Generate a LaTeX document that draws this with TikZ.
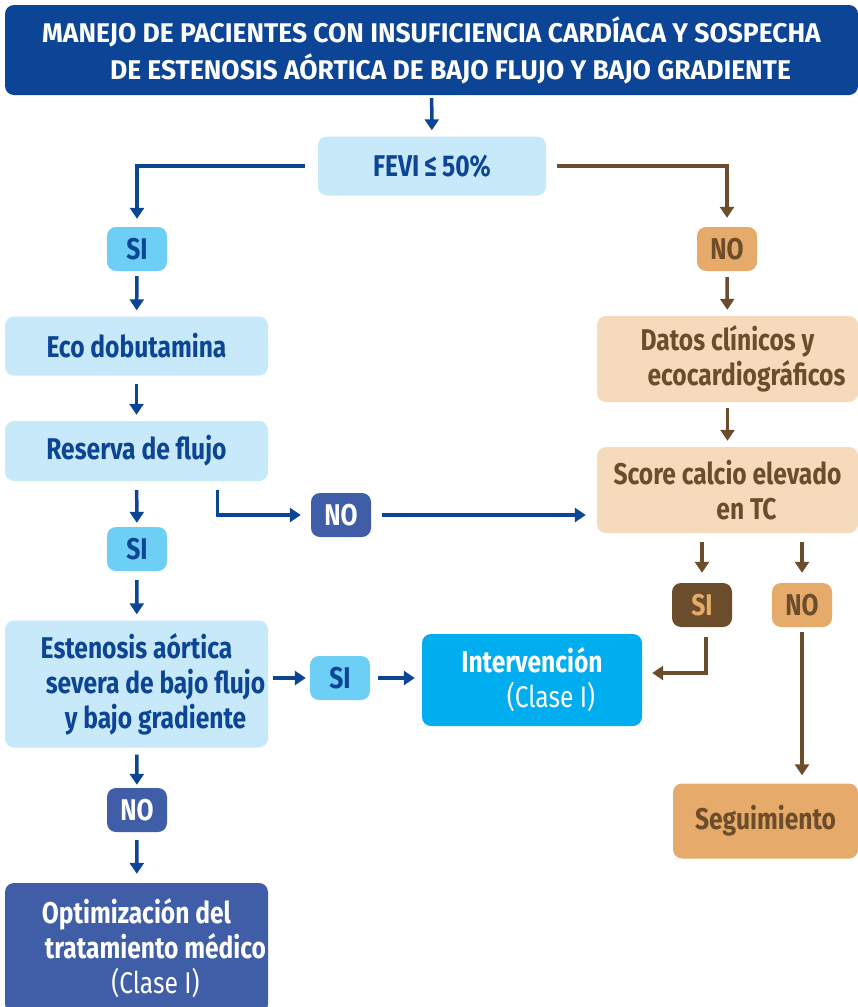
\documentclass[tikz,border=0pt]{standalone}
\usepackage{fontspec}
\setmainfont{Fira Sans}[FakeStretch=0.82]
\newfontfamily\titlefont{Fira Sans}[FakeStretch=0.98]
\usetikzlibrary{arrows.meta}

\definecolor{darkblue}{HTML}{0C4596}
\definecolor{lightblue}{HTML}{C7E9F9}
\definecolor{cyanbox}{HTML}{6DCFF6}
\definecolor{midblue}{HTML}{3F5EA7}
\definecolor{brightblue}{HTML}{00AEEF}
\definecolor{darkbrown}{HTML}{6B4D2C}
\definecolor{tan}{HTML}{E6AA6A}
\definecolor{peach}{HTML}{F5DBBC}

% the second and third lines of a box sit a bit to the right
\newcommand{\lineshift}{\hspace*{38pt}}

\tikzset{
  box/.style={rounded corners=9pt, inner sep=0pt, align=center,
    font=\bfseries\fontsize{30}{35}\selectfont},
  lightbox/.style={box, fill=lightblue, text=darkblue, minimum width=263pt},
  peachbox/.style={box, fill=peach, text=darkbrown, minimum width=261pt, minimum height=86pt},
  tag/.style={box, minimum width=60pt, minimum height=44pt},
  bluearrow/.style={draw=darkblue, line width=3.5pt, -{Triangle[length=11pt,width=14pt]}},
  brownarrow/.style={draw=darkbrown, line width=3.5pt, -{Triangle[length=11pt,width=14pt]}}
}

\begin{document}
\begin{tikzpicture}[x=1pt,y=-1pt]
\useasboundingbox (0,0) rectangle (858,1007);

% title and first question
\node[box, fill=darkblue, text=white, minimum width=853pt, minimum height=90pt,
  font=\titlefont\bfseries\fontsize{27}{37}\selectfont] (title) at (431.5,50)
  {MANEJO DE PACIENTES CON INSUFICIENCIA CARDÍACA Y SOSPECHA\\
   \lineshift DE ESTENOSIS AÓRTICA DE BAJO FLUJO Y BAJO GRADIENTE};
\node[lightbox, minimum width=228pt, minimum height=59pt] (fevi) at (432,166) {FEVI\,≤\,50\%};

% left branch
\node[tag, fill=cyanbox, text=darkblue] (si1) at (137,249) {SI};
\node[lightbox, minimum height=59pt] (eco) at (136.5,346) {Eco dobutamina};
\node[lightbox, minimum height=60pt] (reserva) at (136.5,451) {Reserva de flujo};
\node[tag, fill=cyanbox, text=darkblue] (si2) at (137,549) {SI};
\node[tag, fill=midblue, text=white] (no2) at (341,515) {NO};
\node[lightbox, minimum height=127pt] (estenosis) at (136.5,684)
  {Estenosis aórtica\\\lineshift severa de bajo flujo\\\lineshift y bajo gradiente};
\node[tag, fill=cyanbox, text=darkblue] (si3) at (340,678) {SI};
\node[box, fill=brightblue, text=white, minimum width=220pt, minimum height=92pt] (interv) at (532,680)
  {Intervención\\\lineshift{\mdseries (Clase I)}};
\node[tag, fill=midblue, text=white] (no3) at (137,810) {NO};
\node[box, fill=midblue, text=white, minimum width=263pt, minimum height=130pt] (optim) at (136.5,948)
  {Optimización del\\\lineshift tratamiento médico\\\lineshift{\mdseries (Clase I)}};

% right branch
\node[tag, fill=tan, text=darkbrown] (no1) at (727,249) {NO};
\node[peachbox] (datos) at (727.5,359) {Datos clínicos y\\\lineshift ecocardiográficos};
\node[peachbox] (score) at (727.5,490) {Score calcio elevado\\\lineshift en TC};
\node[tag, fill=darkbrown, text=tan] (si4) at (702,605) {SI};
\node[tag, fill=tan, text=darkbrown] (no4) at (802,605) {NO};
\node[box, fill=tan, text=darkbrown, minimum width=185pt, minimum height=75pt] (segui) at (765.5,821) {Seguimiento};

% connectors
\draw[bluearrow, shorten <=3pt, shorten >=6pt] (title) -- (fevi);
\draw[bluearrow, shorten <=13pt, shorten >=8pt] (fevi.west) -| (si1);
\draw[brownarrow, shorten <=11pt, shorten >=9pt] (fevi.east) -| (no1);
\draw[bluearrow, shorten <=5pt, shorten >=6pt] (si1) -- (eco);
\draw[bluearrow, shorten <=8pt, shorten >=6pt] (eco) -- (reserva);
\draw[bluearrow, shorten <=9pt, shorten >=4pt] (reserva) -- (si2);
\draw[bluearrow, shorten <=9pt, shorten >=10pt] ([xshift=81pt]reserva.south) |- (no2);
\draw[bluearrow, shorten <=11pt, shorten >=11pt] (no2) -- (no2 -| score.west);
\draw[bluearrow, shorten <=9pt, shorten >=6pt] (si2) -- (estenosis);
\draw[bluearrow, shorten <=5pt, shorten >=4pt] (estenosis.east |- si3) -- (si3);
\draw[bluearrow, shorten <=8pt, shorten >=7pt] (si3) -- (interv.west |- si3);
\draw[bluearrow, shorten <=7pt, shorten >=3pt] (estenosis) -- (no3);
\draw[bluearrow, shorten <=8pt, shorten >=9pt] (no3) -- (optim);
\draw[brownarrow, shorten <=6pt, shorten >=6pt] (no1) -- (datos);
\draw[brownarrow, shorten <=6pt, shorten >=6pt] (datos) -- (score);
\draw[brownarrow, shorten <=9pt, shorten >=10pt] (score.south -| si4) -- (si4);
\draw[brownarrow, shorten <=9pt, shorten >=10pt] (score.south -| no4) -- (no4);
\draw[brownarrow, shorten <=10pt, shorten >=10pt] ([xshift=4pt]si4.south) |- ([yshift=7pt]interv.east);
\draw[brownarrow, shorten <=5pt, shorten >=8pt] (no4) -- (no4 |- segui.north);
\end{tikzpicture}
\end{document}
